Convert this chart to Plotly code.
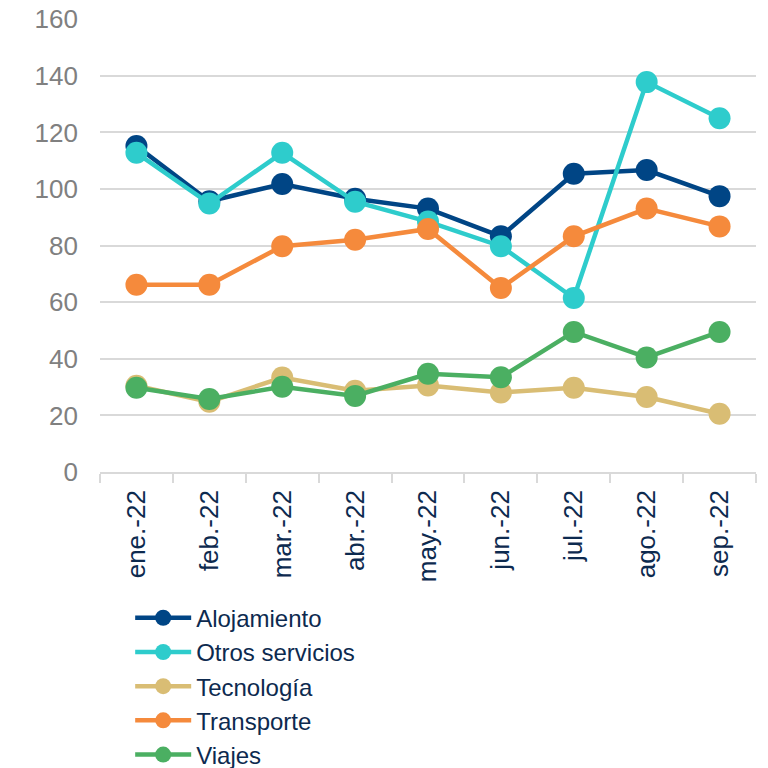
import plotly.graph_objects as go

months = ["ene.-22", "feb.-22", "mar.-22", "abr.-22", "may.-22", "jun.-22", "jul.-22", "ago.-22", "sep.-22"]
alojamiento = [115.2, 95.7, 101.8, 96.6, 93.1, 83.3, 105.4, 106.7, 97.5]
otros_servicios = [112.8, 94.9, 112.8, 95.5, 88.5, 79.8, 61.5, 137.8, 125.0]
tecnologia = [30.5, 24.8, 33.4, 28.7, 30.6, 28.1, 29.8, 26.5, 20.6]
transporte = [66.2, 66.2, 79.8, 82.1, 85.9, 65.0, 83.3, 93.1, 86.8]
viajes = [29.8, 25.8, 30.1, 26.9, 34.7, 33.5, 49.5, 40.5, 49.5]

series = [
    ("Alojamiento", alojamiento, "#004585"),
    ("Otros servicios", otros_servicios, "#2ECCCC"),
    ("Tecnología", tecnologia, "#D9BD74"),
    ("Transporte", transporte, "#F58A3C"),
    ("Viajes", viajes, "#4BAF62"),
]

fig = go.Figure()
for name, vals, col in series:
    fig.add_trace(go.Scatter(
        x=months, y=vals, name=name, mode="lines+markers",
        line=dict(color=col, width=4.5),
        marker=dict(color=col, size=22),
    ))

fig.add_shape(type="line", xref="paper", yref="y", x0=0, x1=1, y0=100, y1=100,
              line=dict(color="#808080", width=1.5), layer="below")

fig.update_layout(
    width=768, height=768,
    margin=dict(l=92, r=20, t=11, b=304, autoexpand=False),
    plot_bgcolor="white", paper_bgcolor="white",
    font=dict(family="Liberation Sans, Arial, sans-serif"),
    showlegend=True,
    legend=dict(
        x=0.046, y=-0.273, xanchor="left", yanchor="top",
        font=dict(size=24, color="#0D2A4F"),
        tracegroupgap=0, itemwidth=56,
        bgcolor="rgba(0,0,0,0)",
    ),
)
fig.update_xaxes(
    type="category", tickangle=-90,
    tickfont=dict(size=26, color="#0D2A4F"),
    showgrid=False, showline=True, linecolor="#D9D9D9", linewidth=1.5,
    ticks="outside", tickson="boundaries", ticklen=9, tickcolor="#D9D9D9", tickwidth=1.5,
    ticklabelstandoff=6,
    range=[-0.5, 8.5],
)
fig.update_yaxes(
    range=[0, 160.1], dtick=20, tick0=0,
    tickfont=dict(size=26, color="#808080"),
    showgrid=True, gridcolor="#D9D9D9", gridwidth=1.5,
    zeroline=False, ticks="", ticklabelstandoff=21,
    ticklabeloverflow="allow",
)

fig.write_html("out.html")
